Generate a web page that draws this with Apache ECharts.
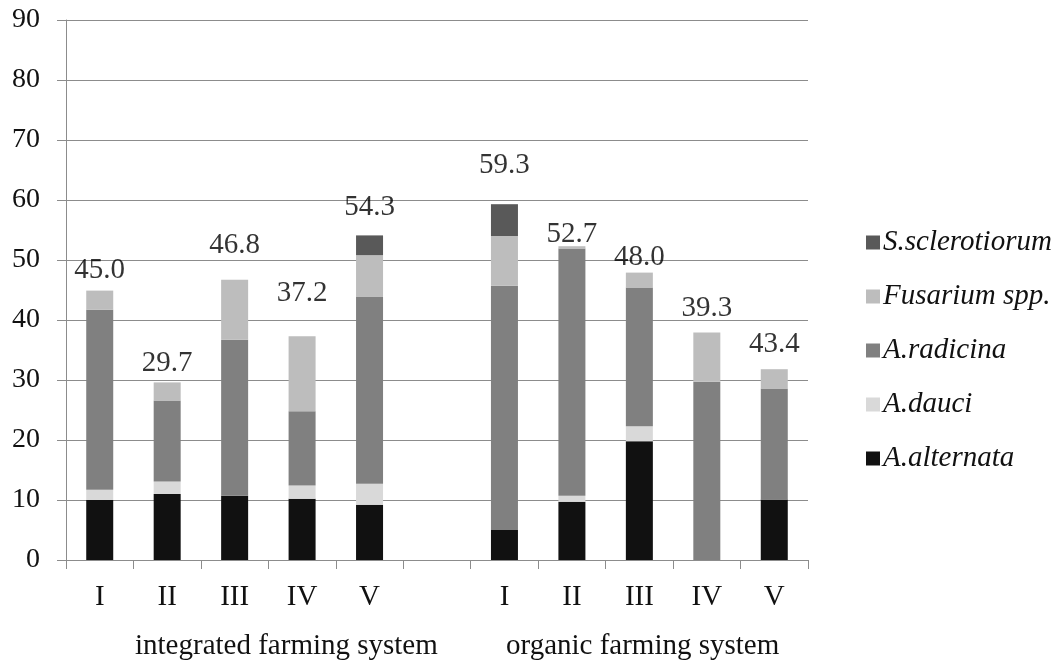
<!DOCTYPE html>
<html>
<head>
<meta charset="utf-8">
<script src="https://cdn.jsdelivr.net/npm/echarts@6/dist/echarts.min.js"></script>
<style>html,body{margin:0;padding:0;background:#fff}#c{width:1064px;height:664px}</style>
</head>
<body>
<div id="c"></div>
<script>
// Categories (blank slot separates the two farming systems)
const categories = ['I', 'II', 'III', 'IV', 'V', '', 'I', 'II', 'III', 'IV', 'V'];
const groupLabels = ['integrated farming system', 'organic farming system'];
const yTicks = [0, 10, 20, 30, 40, 50, 60, 70, 80, 90];

// Stacked series values
const aAlternata    = [10.0, 11.0, 10.7, 10.2, 9.2, null, 5.0, 9.7, 19.8, 0, 10.1];
const aDauci        = [1.7, 2.1, 0, 2.2, 3.5, null, 0, 1.0, 2.5, 0, 0];
const aRadicina     = [30.0, 13.5, 26.0, 12.4, 31.2, null, 40.7, 41.2, 23.1, 29.7, 18.5];
const fusariumSpp   = [3.2, 3.0, 10.0, 12.5, 6.9, null, 8.3, 0.4, 2.5, 8.2, 3.2];
const sSclerotiorum = [0, 0, 0, 0, 3.3, null, 5.3, 0, 0, 0, 0];

// Printed totals above the bars, and the level at which each is printed
const totalLabels = ['45.0', '29.7', '46.8', '37.2', '54.3', '', '59.3', '52.7', '48.0', '39.3', '43.4'];
const labelLevel  = [48.3, 32.8, 52.4, 44.5, 58.7, null, 65.8, 54.2, 50.5, 42.0, 36.0];

const seriesNames = ['A.alternata', 'A.dauci', 'A.radicina', 'Fusarium spp.', 'S.sclerotiorum'];
const seriesData = [aAlternata, aDauci, aRadicina, fusariumSpp, sSclerotiorum];
const colors = ['#111111', '#d9d9d9', '#808080', '#bdbdbd', '#595959'];

const FONT = "'Liberation Serif', 'Times New Roman', serif";
const GRIDC = '#8c8c8c';

const chart = echarts.init(document.getElementById('c'), null, {renderer: 'canvas'});

const series = seriesNames.map((n, i) => ({
  name: n,
  type: 'bar',
  stack: 'total',
  barWidth: 27,
  data: seriesData[i],
  itemStyle: {color: colors[i]},
  emphasis: {disabled: true}
}));

series.push({
  name: 'totals',
  type: 'scatter',
  symbolSize: 0,
  itemStyle: {color: 'transparent'},
  data: labelLevel.map((v, i) => [i, v]),
  label: {
    show: true,
    position: 'inside',
    formatter: p => totalLabels[p.dataIndex],
    fontFamily: FONT,
    fontSize: 29,
    color: '#000',
    textBorderWidth: 0,
    textBorderColor: 'transparent'
  },
  silent: true,
  z: 10
});

chart.setOption({
  animation: false,
  backgroundColor: '#fff',
  grid: {left: 66, right: 256, top: 20, bottom: 104, containLabel: false},
  legend: {
    orient: 'vertical',
    left: 861,
    top: 223,
    itemWidth: 14,
    itemHeight: 14,
    itemGap: 25,
    icon: 'rect',
    data: seriesNames.slice().reverse(),
    textStyle: {fontFamily: FONT, fontSize: 29, fontStyle: 'italic', color: '#111', lineHeight: 28, padding: [0, 0, 0, -2]},
    selectedMode: false
  },
  xAxis: {
    type: 'category',
    data: categories,
    axisLine: {show: true, lineStyle: {color: GRIDC, width: 1}},
    axisTick: {show: true, length: 9, alignWithLabel: false, lineStyle: {color: GRIDC}},
    axisLabel: {fontFamily: FONT, fontSize: 29, color: '#111', margin: 23, interval: 0}
  },
  yAxis: {
    type: 'value',
    min: yTicks[0],
    max: yTicks[yTicks.length - 1],
    interval: 10,
    axisLine: {show: true, lineStyle: {color: GRIDC, width: 1}},
    axisTick: {show: true, length: 9, lineStyle: {color: GRIDC}},
    splitLine: {show: true, lineStyle: {color: GRIDC, width: 1}},
    axisLabel: {fontFamily: FONT, fontSize: 28, color: '#111', margin: 26}
  },
  graphic: [
    {type: 'text', left: 135, top: 632, style: {text: groupLabels[0], font: "29px 'Liberation Serif', serif", fill: '#111'}},
    {type: 'text', left: 506, top: 632, style: {text: groupLabels[1], font: "29px 'Liberation Serif', serif", fill: '#111'}}
  ],
  series: series
});
</script>
</body>
</html>
